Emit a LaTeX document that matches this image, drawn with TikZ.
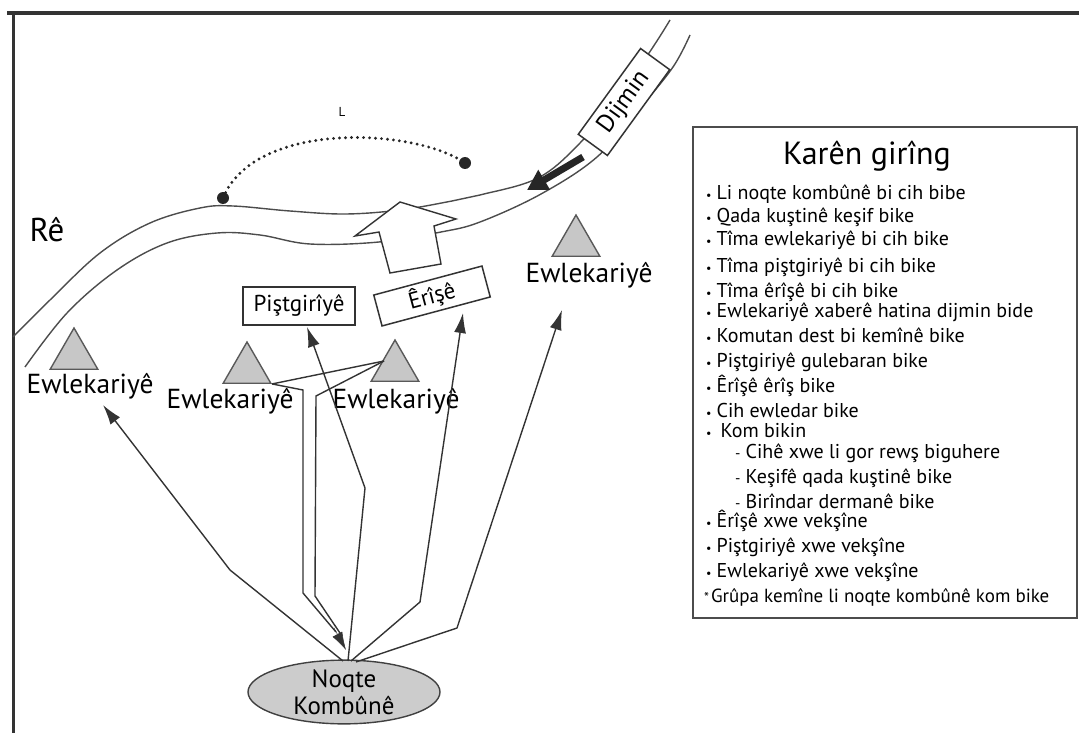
\documentclass[tikz,border=0pt]{standalone}
\usepackage{fontspec}
\setmainfont{PT Sans}
\usetikzlibrary{arrows.meta,shapes.geometric}
\begin{document}
\begin{tikzpicture}[x=1pt,y=-1pt,
  ln/.style={draw=black!80, line width=1.4pt, line join=miter},
  rd/.style={draw=black!70, line width=1.4pt},
  arr/.style={ln, -{Latex[length=20pt,width=12pt]}},
  tri/.style={regular polygon, regular polygon sides=3, draw=black!65, fill=black!22, line width=1.4pt, minimum size=55pt, inner sep=0pt},
  ewl/.style={font=\fontsize{27.5}{32}\selectfont, inner sep=0pt},
  boxnode/.style={draw=black!80, fill=white, line width=1.5pt, inner sep=0pt, font=\fontsize{23}{26}\selectfont},
  legitem/.style={anchor=west, inner sep=0pt, font=\fontsize{20}{23}\selectfont, text height=14pt, text depth=4pt},
  dotnode/.style={circle, fill=black!85, inner sep=0pt, minimum size=12pt}
]
\useasboundingbox (0,0) rectangle (1079,733);
% frame
\draw[line width=3.5pt, black!80] (7,13) -- (1079,13);
\draw[line width=3pt, black!80] (13,11.25) -- (13,733);

% road
\draw[rd] plot[smooth, tension=0.6] coordinates {(13,337) (50,300) (100,253) (150,223) (200,208) (233,206) (290,211) (345,214) (400,210) (452,201) (480,195) (538,178) (580,143) (620,95) (653,47) (670,20)};
\draw[rd] plot[smooth, tension=0.6] coordinates {(25,367) (67,313) (117,270) (167,243) (217,233) (260,235) (310,244) (379,242) (441,232) (480,222) (541,194) (597,157) (640,108) (673,67) (690,35)};

% white arrow across the road
\draw[ln, fill=white] (400,202) -- (456,219) -- (434,226) -- (441,264) -- (390,273) -- (379,232) -- (355,236) -- cycle;

% enemy
\node[boxnode, rotate=54, minimum width=106pt, minimum height=36pt, font=\fontsize{25}{28}\selectfont] (dj) at (624,102) {Dijmin};
\draw[black!85, line width=7pt, -{Triangle[length=20pt,width=22pt]}] (583,157) -- (527,190);

% dotted arc
\node[dotnode] (d1) at (223,198) {};
\node[dotnode] (d2) at (465,163) {};
\draw[black!85, line width=3.2pt, line cap=round, dash pattern=on 0pt off 6pt] (d1.center) .. controls (255,120) and (415,128) .. (d2.center);
\node[font=\fontsize{13}{14}\selectfont, inner sep=0pt] (lbl) at (342,112) {L};

\node[font=\fontsize{33}{36}\selectfont, inner sep=0pt] (re) at (47,230) {Rê};

% boxes
\node[boxnode, minimum width=112pt, minimum height=38pt] (ps) at (299,306) {Piştgirîyê};
\node[boxnode, rotate=15, minimum width=112pt, minimum height=32pt] (er) at (432,296) {Êrîşê};

% triangles
\node[tri] (t1) at (74,355.5) {};
\node[tri] (t2) at (247,369.5) {};
\node[tri] (t3) at (395,367.5) {};
\node[tri] (t4) at (576,242.5) {};
\node[ewl] (ew1) at (90,386) {Ewlekariyê};
\node[ewl] (ew2) at (230,401) {Ewlekariyê};
\node[ewl] (ew3) at (396,401) {Ewlekariyê};
\node[ewl] (ew4) at (589,275) {Ewlekariyê};

% rally point
\node[ellipse, draw=black!75, fill=black!20, line width=1.4pt, minimum width=192pt, minimum height=62pt, inner sep=0pt, font=\fontsize{25}{27}\selectfont, align=center] (nk) at (344,692) {Noqte\\Kombûnê};

% connectors
\coordinate (s1) at (343,661);
\coordinate (s2) at (348,661);
\coordinate (s3) at (351,661);
\coordinate (s4) at (356,662);
\coordinate (b1) at (230,570);
\coordinate (b2) at (365,488);
\coordinate (b3) at (420,602);
\coordinate (b4) at (457,628);
\coordinate (e1) at (103,405);
\coordinate (e2) at (307,327);
\coordinate (e3) at (463,313);
\coordinate (e4) at (562,310);
\draw[arr] (s1) -- (b1) -- (e1);
\draw[arr] (s2) -- (b2) -- (e2);
\draw[arr] (s3) -- (b3) -- (e3);
\draw[arr] (s4) -- (b4) -- (e4);

% withdrawal route (double line)
\coordinate (jl) at (t2.corner 3);
\coordinate (jr) at (384,361);
\coordinate (wt) at (346,650);
\draw[ln] (jl) -- (jr);
\draw[ln] (jl) -- (303,390) -- (303,593) -- (336,632);
\draw[ln] (jr) -- (316,396) -- (315,596) -- (342,636);
\draw[draw=black!80, line width=0.5pt, -{Latex[length=18pt,width=11pt]}] (334,628) -- (wt);

% legend
\node[draw=black!70, line width=2.5pt, minimum width=384pt, minimum height=491pt, inner sep=0pt] (leg) at (885,372.5) {};
\node[font=\fontsize{32}{36}\selectfont, inner sep=0pt] (ttl) at (867,156) {Karên girîng};
\newcommand\bul{{\fontsize{12}{12}\selectfont•}\hspace{5pt}}
\newcommand\dsh{{\fontsize{15}{15}\selectfont -}\hspace{5pt}}
\node[legitem] (l1) at (706,195) {\bul Li noqte kombûnê bi cih bibe};
\node[legitem] (l2) at (706,217) {\bul Qada kuştinê keşif bike};
\node[legitem] (l3) at (706,240) {\bul Tîma ewlekariyê bi cih bike};
\node[legitem] (l4) at (706,267) {\bul Tîma piştgiriyê bi cih bike};
\node[legitem] (l5) at (706,292) {\bul Tîma êrîşê bi cih bike};
\node[legitem] (l6) at (706,312) {\bul Ewlekariyê xaberê hatina dijmin bide};
\node[legitem] (l7) at (706,337) {\bul Komutan dest bi kemînê bike};
\node[legitem] (l8) at (706,362) {\bul Piştgiriyê gulebaran bike};
\node[legitem] (l9) at (706,387) {\bul Êrîşê êrîş bike};
\node[legitem] (l10) at (706,412) {\bul Cih ewledar bike};
\node[legitem] (l11) at (706,432) {\bul\hspace{4pt}Kom bikin};
\node[legitem] (l12) at (735,453) {\dsh Cihê xwe li gor rewş biguhere};
\node[legitem] (l13) at (735,478) {\dsh Keşifê qada kuştinê bike};
\node[legitem] (l14) at (735,503) {\dsh Birîndar dermanê bike};
\node[legitem] (l15) at (706,522) {\bul Êrîşê xwe vekşîne};
\node[legitem] (l16) at (706,547) {\bul Piştgiriyê xwe vekşîne};
\node[legitem] (l17) at (706,572) {\bul Ewlekariyê xwe vekşîne};
\node[legitem, font=\fontsize{19}{22}\selectfont] (l18) at (704,597) {{\fontsize{14}{14}\selectfont *}\hspace{2pt}Grûpa kemîne li noqte kombûnê kom bike};
\end{tikzpicture}
\end{document}
